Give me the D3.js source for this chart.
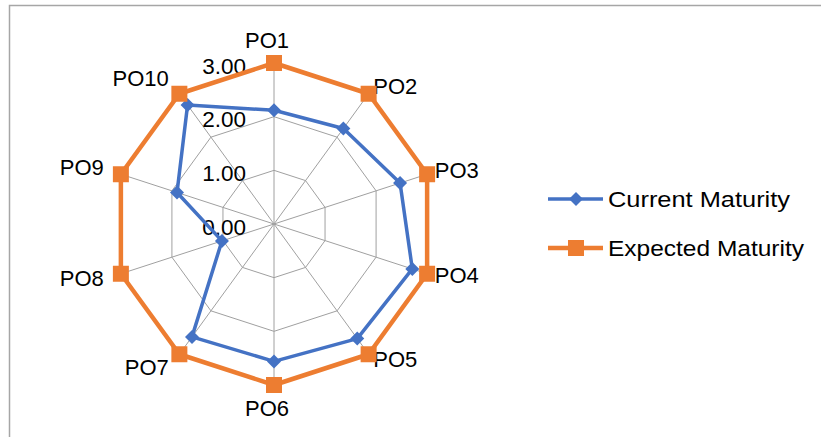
<!DOCTYPE html>
<html>
<head>
<meta charset="utf-8">
<script src="https://cdn.jsdelivr.net/npm/d3@7/dist/d3.min.js"></script>
<style>
  html, body { margin: 0; padding: 0; background: #fff; }
  svg { display: block; }
  text { font-family: "Liberation Sans", Arial, sans-serif; fill: #000; }
</style>
</head>
<body>
<svg id="chart" width="821" height="437"></svg>
<script>
const categories = ["PO1", "PO2", "PO3", "PO4", "PO5", "PO6", "PO7", "PO8", "PO9", "PO10"];
const currentMaturity = [2.12, 2.20, 2.47, 2.71, 2.64, 2.56, 2.60, 1.02, 1.90, 2.74];
const expectedMaturity = [3, 3, 3, 3, 3, 3, 3, 3, 3, 3];
const tickValues = [0, 1, 2, 3];
const seriesNames = ["Current Maturity", "Expected Maturity"];
const seriesColors = ["#4472C4", "#ED7D31"];

const svg = d3.select("#chart");
const W = 821, H = 437;
const cx = 274, cy = 224, R = 161;

// chart border
svg.append("rect").attr("x", 9.5).attr("y", 5.5).attr("width", W).attr("height", H)
  .attr("fill", "none").attr("stroke", "#A6A6A6").attr("stroke-width", 1.5);

const r = d3.scaleLinear().domain([0, 3]).range([0, R]);
const angle = d3.scalePoint().domain(categories).range([0, 2 * Math.PI * (categories.length - 1) / categories.length]);

const pt = (cat, v) => {
  const a = angle(cat);
  return [cx + r(v) * Math.sin(a), cy - r(v) * Math.cos(a)];
};

const g = svg.append("g");

// grid rings
tickValues.filter(t => t > 0).forEach(t => {
  g.append("path")
    .attr("d", d3.line()(categories.map(c => pt(c, t))) + "Z")
    .attr("fill", "none").attr("stroke", "#A0A0A0").attr("stroke-width", 1);
});
// spokes
categories.forEach(c => {
  const [x, y] = pt(c, 3);
  g.append("line").attr("x1", cx).attr("y1", cy).attr("x2", x).attr("y2", y)
    .attr("stroke", "#A0A0A0").attr("stroke-width", 1);
});

// tick labels
const fmt = d3.format(".2f");
tickValues.forEach(t => {
  g.append("text").attr("x", cx - 28).attr("y", cy - r(t) + 3)
    .attr("text-anchor", "end").attr("dominant-baseline", "central")
    .attr("font-size", 22.5).text(fmt(t));
});

// category labels
categories.forEach(c => {
  const a = angle(c);
  const s = Math.sin(a), co = Math.cos(a);
  let anchor = "middle", pad = 23;
  if (s > 0.1) { anchor = "start"; pad = 8; }
  else if (s < -0.1) { anchor = "end"; pad = 18; }
  const x = cx + (R + pad) * s + (anchor === "middle" ? -7 : 0);
  const y = cy - (R + pad) * co - (Math.abs(co) < 0.99 ? 1 : 0);
  g.append("text").attr("x", x).attr("y", y)
    .attr("text-anchor", anchor).attr("dominant-baseline", "central")
    .attr("font-size", 22).text(c);
});

const line = d3.line();
const allSeries = [currentMaturity, expectedMaturity];
[0, 1].forEach(i => {
  const vals = allSeries[i];
  const pts = categories.map((c, j) => pt(c, vals[j]));
  g.append("path").attr("d", line(pts) + "Z")
    .attr("fill", "none").attr("stroke", seriesColors[i])
    .attr("stroke-width", i === 0 ? 3.5 : 4.5).attr("stroke-linejoin", "round");
  const sym = d3.symbol().type(i === 0 ? d3.symbolDiamond2 : d3.symbolSquare).size(i === 0 ? 125 : 256);
  pts.forEach(p => {
    g.append("path").attr("d", sym()).attr("transform", `translate(${p[0]},${p[1]})`)
      .attr("fill", seriesColors[i]);
  });
});

// legend
const legY = [199, 248];
seriesNames.forEach((name, i) => {
  const lg = svg.append("g").attr("transform", `translate(548,${legY[i]})`);
  lg.append("line").attr("x1", 0).attr("x2", 55).attr("y1", 0).attr("y2", 0)
    .attr("stroke", seriesColors[i]).attr("stroke-width", i === 0 ? 3.5 : 4.5);
  const sym = d3.symbol().type(i === 0 ? d3.symbolDiamond2 : d3.symbolSquare).size(i === 0 ? 125 : 256);
  lg.append("path").attr("d", sym()).attr("transform", "translate(28,0)")
    .attr("fill", seriesColors[i]);
  lg.append("text").attr("x", 60).attr("y", 0).attr("dominant-baseline", "central")
    .attr("font-size", 22).attr("textLength", i === 0 ? 182 : 196).attr("lengthAdjust", "spacingAndGlyphs")
    .text(name);
});
</script>
</body>
</html>
